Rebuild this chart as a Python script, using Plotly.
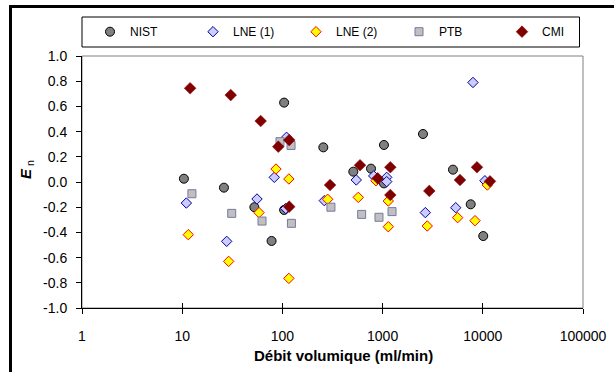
import plotly.graph_objects as go

# ---------------- data ----------------
nist_x = [10.4, 26.1, 52.5, 78, 104, 104, 256, 510, 766, 1032, 1032, 2530, 5040, 7570, 10100]
nist_y = [0.026, -0.045, -0.20, -0.468, -0.222, 0.63, 0.275, 0.082, 0.106, -0.011, 0.294, 0.381, 0.098, -0.177, -0.429]

lne1_x = [11.0, 27.8, 55.8, 83, 108, 110, 262, 546, 815, 1099, 1099, 2670, 5370, 7980, 10500]
lne1_y = [-0.167, -0.471, -0.135, 0.037, -0.21, 0.355, -0.148, 0.016, 0.048, 0.037, 0.003, -0.243, -0.204, 0.79, 0.01]

lne2_x = [11.5, 29.1, 58.4, 86.3, 116, 116, 283, 572, 859, 1140, 1140, 2790, 5610, 8360, 11100]
lne2_y = [-0.418, -0.63, -0.243, 0.103, -0.765, 0.024, -0.137, -0.122, 0.01, -0.151, -0.355, -0.349, -0.283, -0.307, -0.024]

ptb_x = [12.5, 31.2, 62.6, 94.6, 122, 123, 305, 618, 920, 1242]
ptb_y = [-0.093, -0.249, -0.31, 0.32, 0.29, -0.328, -0.2, -0.257, -0.28, -0.235]

cmi_x = [12.0, 30.5, 60.7, 91, 117, 117, 299, 595, 893, 1194, 1194, 2925, 5920, 8750, 11800]
cmi_y = [0.744, 0.69, 0.484, 0.28, 0.333, -0.196, -0.024, 0.133, 0.029, 0.117, -0.103, -0.071, 0.016, 0.117, 0.005]

x_tickvals = [1, 10, 100, 1000, 10000, 100000]
x_ticktext = ["1", "10", "100", "1000", "10000", "100000"]
y_tickvals = [-1.0, -0.8, -0.6, -0.4, -0.2, 0.0, 0.2, 0.4, 0.6, 0.8, 1.0]
y_ticktext = ["-1.0", "-0.8", "-0.6", "-0.4", "-0.2", "0.0", "0.2", "0.4", "0.6", "0.8", "1.0"]

x_title = "Débit volumique (ml/min)"
series_names = ["NIST", "LNE (1)", "LNE (2)", "PTB", "CMI"]

FONT = "Liberation Sans, Arial, sans-serif"
W, H = 614, 372

fig = go.Figure()

fig.add_trace(go.Scatter(
    x=nist_x, y=nist_y, mode="markers", name=series_names[0],
    marker=dict(symbol="circle", size=9, color="#808080",
                line=dict(color="#000000", width=1))))
fig.add_trace(go.Scatter(
    x=lne1_x, y=lne1_y, mode="markers", name=series_names[1],
    marker=dict(symbol="diamond", size=8, color="#ccccff",
                line=dict(color="#000099", width=1))))
fig.add_trace(go.Scatter(
    x=lne2_x, y=lne2_y, mode="markers", name=series_names[2],
    marker=dict(symbol="diamond", size=8, color="#ffff00",
                line=dict(color="#ff0000", width=1))))
fig.add_trace(go.Scatter(
    x=ptb_x, y=ptb_y, mode="markers", name=series_names[3],
    marker=dict(symbol="square", size=8, color="#c0c0c0",
                line=dict(color="#7878a0", width=1))))
fig.add_trace(go.Scatter(
    x=cmi_x, y=cmi_y, mode="markers", name=series_names[4],
    marker=dict(symbol="diamond", size=9, color="#800000",
                line=dict(color="#800000", width=0.5))))

# plot area in pixels: 82..583 x 56..308
L, R, T, B = 82, 583, 56, 308
def px(xp):
    return (xp - L) / (R - L)
def py(yp):
    return (B - yp) / (B - T)

fig.update_layout(
    width=W, height=H,
    margin=dict(l=L, r=W - R, t=T, b=H - B, pad=0, autoexpand=False),
    paper_bgcolor="white", plot_bgcolor="white",
    font=dict(family=FONT, size=14, color="black"),
    showlegend=True,
    legend=dict(orientation="h", xref="paper", yref="paper",
                x=px(605), xanchor="right",
                y=py(31.7), yanchor="middle",
                bgcolor="rgba(0,0,0,0)", borderwidth=0,
                font=dict(family=FONT, size=12, color="black"),
                entrywidth=58, entrywidthmode="pixels",
                itemclick=False),
    xaxis=dict(type="log", range=[0, 5], tickvals=x_tickvals, ticktext=x_ticktext,
               showgrid=False, zeroline=False, showline=True, linecolor="black",
               linewidth=1, ticks="outside", ticklen=5, tickcolor="black",
               tickwidth=1, ticklabelstandoff=10,
               tickfont=dict(family=FONT, size=14, color="black")),
    xaxis2=dict(type="log", range=[0, 5], tickvals=x_tickvals, overlaying="x",
                side="bottom", anchor="y", showgrid=False, zeroline=False,
                showline=False, ticks="inside", ticklen=5, tickcolor="black",
                tickwidth=1, showticklabels=False),
    yaxis=dict(range=[-1.0, 1.0], tickvals=y_tickvals, ticktext=y_ticktext,
               showgrid=False, zeroline=False, showline=True, linecolor="black",
               linewidth=1, ticks="outside", ticklen=5, tickcolor="black",
               tickwidth=1, ticklabelstandoff=6,
               tickfont=dict(family=FONT, size=14, color="black")),
)

# invisible trace so xaxis2 (inner half of the cross ticks) is drawn
fig.add_trace(go.Scatter(x=[1], y=[None], xaxis="x2", yaxis="y",
                         showlegend=False, hoverinfo="skip", mode="markers"))

fig.update_layout(shapes=[
    dict(type="rect", xref="paper", yref="paper", x0=0, x1=1, y0=0, y1=1,
         line=dict(color="#808080", width=1), layer="below"),
    dict(type="rect", xref="paper", yref="paper", x0=px(82), x1=px(579.5),
         y0=py(47), y1=py(17), line=dict(color="black", width=1),
         fillcolor="rgba(0,0,0,0)", layer="below"),
    dict(type="line", xref="paper", yref="paper", x0=px(9), x1=px(620),
         y0=py(6.5), y1=py(6.5), line=dict(color="black", width=3)),
    dict(type="line", xref="paper", yref="paper", x0=px(10.5), x1=px(10.5),
         y0=py(5), y1=py(380), line=dict(color="black", width=3)),
])

fig.update_layout(annotations=[
    dict(text="<b>" + x_title + "</b>", xref="paper", yref="paper",
         x=px(343), y=py(355), xanchor="center", yanchor="middle",
         showarrow=False, font=dict(family=FONT, size=15, color="black")),
    dict(text="<b><i>E</i></b><sub> n</sub>", xref="paper", yref="paper",
         x=px(26), y=py(170), xanchor="center", yanchor="middle", textangle=-90,
         showarrow=False, font=dict(family=FONT, size=15, color="black")),
])

fig.write_html("out.html",
               config={"displayModeBar": False, "staticPlot": True},
               post_script="document.body.style.margin='0px';document.body.style.overflow='hidden';")
